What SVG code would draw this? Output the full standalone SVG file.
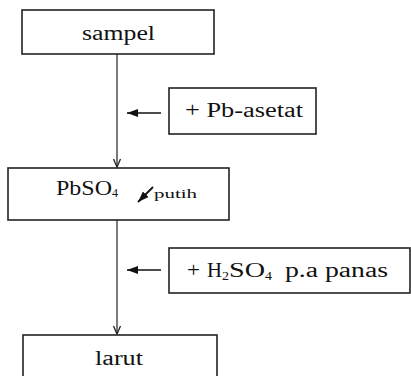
<svg xmlns="http://www.w3.org/2000/svg" width="411" height="376" viewBox="0 0 411 376">
<style>
.box{fill:#fff;stroke:#222;stroke-width:1.6}
.t{font-family:"Liberation Serif","Times New Roman",serif;font-size:20px;fill:#111}
.s{font-family:"Liberation Serif","Times New Roman",serif;font-size:13px;fill:#111}
.ln{stroke:#333;stroke-width:1.3;fill:none}
.ha{stroke:#111;stroke-width:1.6;fill:none}
</style>
<defs>
<marker id="va" markerUnits="userSpaceOnUse" markerWidth="10" markerHeight="10" refX="9" refY="5" orient="auto">
<path d="M1,1.5 L9,5 L1,8.5" fill="none" stroke="#222" stroke-width="1.3"/>
</marker>
<marker id="hh" markerUnits="userSpaceOnUse" markerWidth="12" markerHeight="10" refX="11" refY="5" orient="auto">
<path d="M0,1 L11,5 L0,9 Z" fill="#111"/>
</marker>
</defs>
<g id="connectors">
<line class="ln" x1="117" y1="54" x2="117" y2="167" marker-end="url(#va)"/>
<line class="ln" x1="117" y1="220" x2="117" y2="334" marker-end="url(#va)"/>
<line class="ha" x1="161" y1="113" x2="127" y2="113" marker-end="url(#hh)"/>
<line class="ha" x1="161" y1="270" x2="127" y2="270" marker-end="url(#hh)"/>
</g>
<g id="sampel">
<rect class="box" x="22" y="10" width="192" height="44"/>
<text class="t" x="82" y="40" textLength="73" lengthAdjust="spacingAndGlyphs">sampel</text>
</g>
<g id="pb-asetat">
<rect class="box" x="169" y="88" width="147" height="46"/>
<text class="t" x="185" y="117" textLength="118" lengthAdjust="spacingAndGlyphs">+ Pb-asetat</text>
</g>
<g id="pbso4">
<rect class="box" x="8" y="168" width="221" height="52"/>
<text class="t" x="56" y="195" textLength="56" lengthAdjust="spacingAndGlyphs">PbSO</text>
<text class="s" x="112" y="197" textLength="6" lengthAdjust="spacingAndGlyphs">4</text>
<line x1="153" y1="187" x2="138" y2="202" stroke="#111" stroke-width="1.8" marker-end="url(#hh)"/>
<text class="s" x="154" y="198" textLength="43" lengthAdjust="spacingAndGlyphs">putih</text>
</g>
<g id="h2so4">
<rect class="box" x="169" y="248" width="241" height="45"/>
<text class="t" x="187" y="277" textLength="13" lengthAdjust="spacingAndGlyphs">+</text>
<text class="t" x="207" y="277" textLength="15" lengthAdjust="spacingAndGlyphs">H</text>
<text class="s" x="222" y="280" textLength="7" lengthAdjust="spacingAndGlyphs">2</text>
<text class="t" x="229" y="277" textLength="36" lengthAdjust="spacingAndGlyphs">SO</text>
<text class="s" x="265" y="280" textLength="7" lengthAdjust="spacingAndGlyphs">4</text>
<text class="t" x="285" y="277" textLength="103" lengthAdjust="spacingAndGlyphs">p.a panas</text>
</g>
<g id="larut">
<rect class="box" x="23" y="335" width="194" height="50"/>
<text class="t" x="95" y="365" textLength="48" lengthAdjust="spacingAndGlyphs">larut</text>
</g>
</svg>
